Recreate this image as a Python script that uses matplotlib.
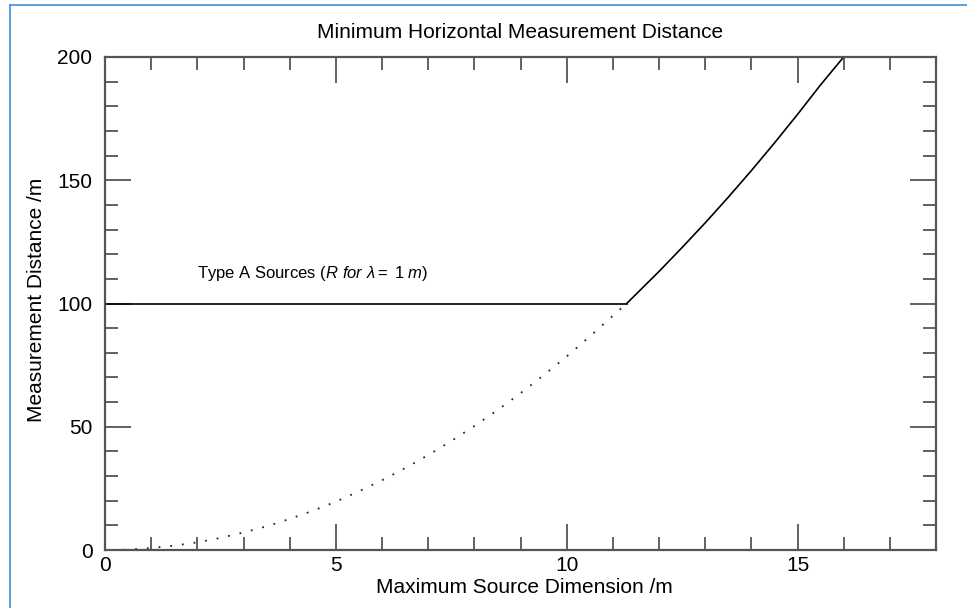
import matplotlib
matplotlib.use('Agg')
from matplotlib import pyplot as plt
from matplotlib.lines import Line2D
from matplotlib.ticker import MultipleLocator

plt.rcParams['font.family'] = ['Liberation Sans', 'DejaVu Sans']
plt.rcParams['mathtext.fontset'] = 'custom'
plt.rcParams['mathtext.rm'] = 'Liberation Sans'
plt.rcParams['mathtext.it'] = 'Liberation Sans:italic'

# far-field part below the 100 m limit (dotted)
dotted_x = [0.4, 1.0, 1.5, 2.0, 2.5, 3.0, 3.5, 4.0, 4.5, 5.0, 5.5, 6.0, 6.5, 7.0,
            7.5, 8.0, 8.5, 9.0, 9.5, 10.0, 10.5, 11.0, 11.3]
dotted_y = [0.1, 0.8, 1.8, 3.1, 4.9, 7.1, 9.6, 12.6, 15.9, 19.6, 23.8, 28.3, 33.2, 38.5,
            44.2, 50.3, 56.7, 63.6, 70.9, 78.5, 86.6, 95.0, 100.0]

# solid part above the limit
solid_x = [11.3, 12.0, 12.5, 13.0, 13.5, 14.0, 14.5, 15.0, 15.5, 16.0]
solid_y = [100.0, 113.0, 122.7, 132.7, 143.1, 153.9, 165.1, 176.7, 188.7, 200.0]

# type A constant distance
flat_x = [0.0, 11.3]
flat_y = [100.0, 100.0]

x_major = [0, 5, 10, 15]
y_major = [0, 50, 100, 150, 200]

axis_grey = '#555555'
W, H = 967, 608

fig = plt.figure(figsize=(W / 100, H / 100), dpi=100)
ax = fig.add_axes([105 / W, 1 - 550 / H, (936 - 105) / W, (550 - 57) / H])

ax.plot(flat_x, flat_y, color='black', lw=1.2)
ax.plot(solid_x, solid_y, color='black', lw=1.2)
ax.plot(dotted_x, dotted_y, color='#222222', lw=1.3, linestyle=(0, (1, 5.5)))

ax.set_xlim(0, 18)
ax.set_ylim(0, 200)
ax.set_xticks(x_major)
ax.set_yticks(y_major)
ax.xaxis.set_minor_locator(MultipleLocator(1))
ax.yaxis.set_minor_locator(MultipleLocator(10))

for s in ax.spines.values():
    s.set_color(axis_grey)
    s.set_linewidth(1.6)

ax.tick_params(which='both', direction='in', top=True, right=True, color=axis_grey, width=1.3)
ax.tick_params(which='major', length=18.5, labelsize=15)
ax.tick_params(axis='x', which='major', pad=4)
ax.tick_params(axis='y', which='major', pad=9)
ax.tick_params(which='minor', length=9.5)

# title and axis labels placed by pixel
fig.text(520.5 / W, 1 - 32 / H, 'Minimum Horizontal Measurement Distance',
         fontsize=15, ha='center', va='center')
fig.text(524 / W, 1 - 593 / H, 'Maximum Source Dimension /m',
         fontsize=15, ha='center', va='baseline')
fig.text(37 / W, 1 - 300 / H, 'Measurement Distance /m',
         fontsize=15, ha='center', va='center', rotation=90)

ax.text(2.0, 112, 'Type A Sources ($\\mathit{R\\ for\\ \\lambda{=}\\ 1\\ m}$)',
        fontsize=12, va='center', ha='left')

# thin blue frame round the picture (only top and left visible)
fig.add_artist(Line2D([10 / W, 10 / W], [0, 1 - 5 / H], transform=fig.transFigure,
                      color='#3d8fd8', lw=1.2))
fig.add_artist(Line2D([10 / W, 1], [1 - 5 / H, 1 - 5 / H], transform=fig.transFigure,
                      color='#3d8fd8', lw=1.2))

plt.savefig('out.png', dpi=100)
